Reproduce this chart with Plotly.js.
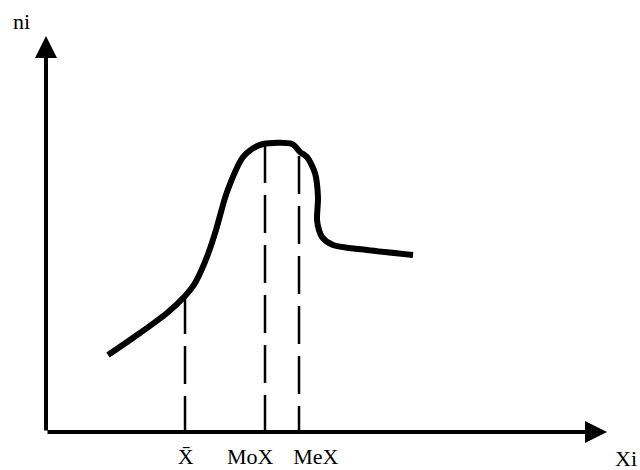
<!DOCTYPE html>
<html>
<head>
<meta charset="utf-8">
<script src="https://cdn.plot.ly/plotly-3.0.1.min.js"></script>
<style>html,body{margin:0;padding:0;background:#fff;}#chart{width:640px;height:470px;}</style>
</head>
<body>
<div id="chart"></div>
<script>
// Frequency curve ni(Xi) (axis units 0..100)
var curveX = [11.05, 16.76, 21.57, 24.78, 26.4, 27.6, 28.9, 30.3, 32.26, 35.12, 36.72, 38.68, 43.85, 45.28, 46.52, 47.95, 48.48, 48.31, 48.66, 49.2, 51.16, 57.22, 65.42];
var curveY = [19.44, 25.0, 30.05, 34.34, 37.2, 40.5, 45.0, 51.0, 60.6, 69.44, 71.46, 72.73, 72.73, 70.71, 69.44, 65.4, 59.34, 53.54, 51.01, 49.24, 47.22, 45.96, 44.7];

// Mean, mode, median markers
var statNames = ['X\u0304', 'MoX', 'MeX'];
var statX = [24.78, 39.04, 45.1];
var statTop = [34.34, 72.5, 69.7];
var statLabelX = [24.9, 36.4, 48.1];

var axisNames = {x: 'Xi', y: 'ni'};

var dashX = [], dashY = [];
for (var i = 0; i < statX.length; i++) {
  dashX.push(statX[i], statX[i], null);
  dashY.push(statTop[i], 0, null);
}

var serif = 'Liberation Serif, Times New Roman, serif';

var traces = [
  {x: dashX, y: dashY, mode: 'lines', line: {color: '#000', width: 2.5, dash: '38px,12px'}, hoverinfo: 'skip', cliponaxis: false},
  {x: curveX, y: curveY, mode: 'lines', line: {color: '#000', width: 6, shape: 'spline', smoothing: 0.8}, hoverinfo: 'skip', cliponaxis: false}
];

var annotations = [
  {xref: 'x', yref: 'y', axref: 'x', ayref: 'y', x: 100, y: 0, ax: 0, ay: 0, text: '', showarrow: true, arrowhead: 2, arrowwidth: 4, arrowsize: 1.1, arrowcolor: '#000', standoff: 0},
  {xref: 'x', yref: 'y', axref: 'x', ayref: 'y', x: 0, y: 100, ax: 0, ay: 0, text: '', showarrow: true, arrowhead: 2, arrowwidth: 4, arrowsize: 1.1, arrowcolor: '#000', standoff: 0},
  {xref: 'paper', yref: 'paper', x: -0.043, y: 1.036, xanchor: 'center', yanchor: 'middle', text: axisNames.y, showarrow: false, font: {family: serif, size: 22, color: '#000'}},
  {xref: 'paper', yref: 'paper', x: 1.034, y: -0.066, xanchor: 'center', yanchor: 'middle', text: axisNames.x, showarrow: false, font: {family: serif, size: 22, color: '#000'}}
];

var layout = {
  width: 640, height: 470,
  margin: {l: 46, r: 33, t: 36, b: 38, pad: 0},
  paper_bgcolor: '#fff', plot_bgcolor: '#fff',
  showlegend: false,
  xaxis: {range: [0, 100], showgrid: false, zeroline: false, showline: false, ticks: '',
          tickmode: 'array', tickvals: statLabelX, ticktext: statNames,
          tickfont: {family: serif, size: 22, color: '#000'}, ticklabelstandoff: 9, fixedrange: true},
  yaxis: {range: [0, 100], showgrid: false, zeroline: false, showline: false, showticklabels: false, ticks: '', fixedrange: true},
  annotations: annotations
};

Plotly.newPlot('chart', traces, layout, {staticPlot: true, displayModeBar: false});
</script>
</body>
</html>
